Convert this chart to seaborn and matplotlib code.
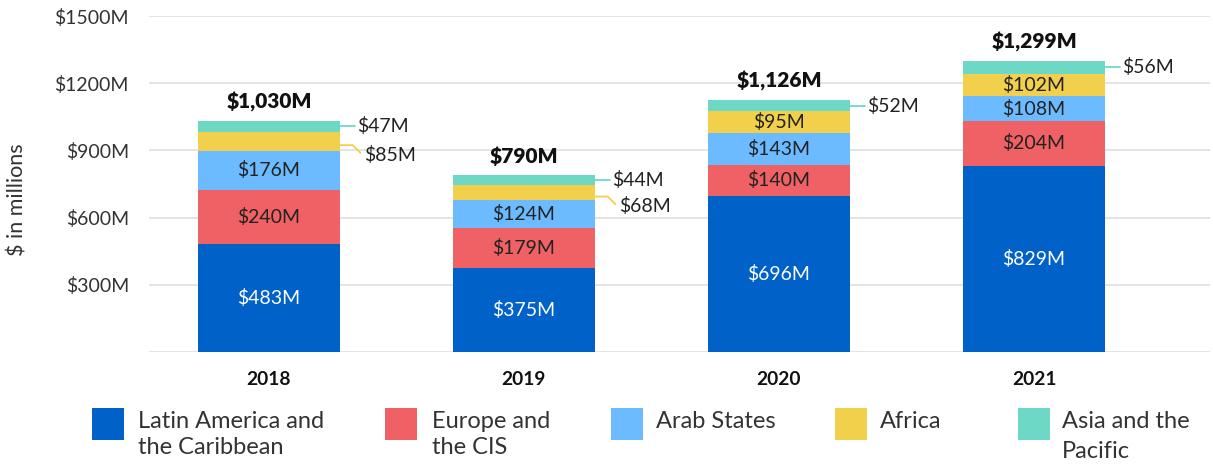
import numpy as np
import matplotlib.pyplot as plt
import seaborn as sns
from matplotlib.patches import Rectangle

years = ["2018", "2019", "2020", "2021"]
legend_labels = ["Latin America and\nthe Caribbean", "Europe and\nthe CIS", "Arab States",
                 "Africa", "Asia and the\nPacific"]
latin_america = [483, 375, 696, 829]
europe_cis = [240, 179, 140, 204]
arab_states = [176, 124, 143, 108]
africa = [85, 68, 95, 102]
asia_pacific = [47, 44, 52, 56]
totals = [1030, 790, 1126, 1299]
colors = ["#0061C9", "#EF6164", "#6CBAFF", "#F3D04B", "#6ED8C7"]

sns.set_theme(style="white")
plt.rcParams["font.family"] = ["Lato", "DejaVu Sans"]

W, H = 1213, 465
fig = plt.figure(figsize=(W / 100, H / 100), dpi=100)
ax = fig.add_axes([149 / W, 1 - 352 / H, (1210 - 149) / W, 336 / H])

stack = np.array([latin_america, europe_cis, arab_states, africa, asia_pacific])
cum = stack.cumsum(axis=0)
bw = 0.557

# stacked bars: draw cumulative layers from the top down
for k in reversed(range(len(stack))):
    sns.barplot(x=years, y=cum[k], color=colors[k], saturation=1, width=bw,
                errorbar=None, linewidth=0, ax=ax)

ax.set_xlim(-0.47, 3.69)
ax.set_ylim(0, 1500)
ax.set_yticks([0, 300, 600, 900, 1200, 1500])
ax.set_yticklabels(["", "\\$300M", "\\$600M", "\\$900M", "\\$1200M", "\\$1500M"])
ax.set_axisbelow(True)
ax.yaxis.grid(True, color="#e2e2e2", lw=1.3)
ax.xaxis.grid(False)
sns.despine(ax=ax, left=True, bottom=True)
ax.tick_params(axis="y", length=0, pad=14.5, labelsize=14, labelcolor="#333333")
ax.tick_params(axis="x", length=0, pad=14, labelsize=13.8, labelcolor="#111111")
for t in ax.get_xticklabels():
    t.set_fontweight("bold")
ax.set_ylabel("\\$ in millions", fontsize=15.5, color="#333333")
ax.yaxis.set_label_coords((28 - 149) / 1061, (352 - 200) / 336)

# segment labels
for i in range(len(years)):
    edge = i + bw / 2
    for k in range(len(stack)):
        v = stack[k, i]
        yc = cum[k, i] - v / 2
        txt = f"\\${v}M"
        if v >= 90:
            ax.text(i, yc, txt, ha="center", va="center", fontsize=14,
                    color="white" if k == 0 else "#222222")
        elif k == 4:
            ax.plot([edge, edge + 0.06], [yc, yc], color=colors[k], lw=1.3, clip_on=False)
            ax.text(edge + 0.066, yc, txt, ha="left", va="center", fontsize=14, color="#222222")
        else:
            yl = yc - 60
            ax.plot([edge, edge + 0.05, edge + 0.08], [yc - 18, yc - 18, yl + 8],
                    color=colors[k], lw=1.3, clip_on=False)
            ax.text(edge + 0.094, yl, txt, ha="left", va="center", fontsize=14, color="#222222")
    ax.text(i, totals[i] + 85, f"\\${totals[i]:,}M", ha="center", va="center",
            fontsize=15, fontweight="heavy", color="#111111")

# legend
sq_x = [92, 385, 611, 835, 1018]
tx_x = [138, 432, 656, 880, 1062]
spacing = [1.28, 1.28, 1.28, 1.28, 1.55]
for k in range(len(stack)):
    fig.add_artist(Rectangle((sq_x[k] / W, 1 - 440 / H), 32 / W, 32 / H,
                             transform=fig.transFigure, color=colors[k], lw=0))
    fig.text(tx_x[k] / W, 1 - 411 / H, legend_labels[k], ha="left", va="top",
             fontsize=17, color="#333333", linespacing=spacing[k])

fig.savefig("out.png", dpi=100)
